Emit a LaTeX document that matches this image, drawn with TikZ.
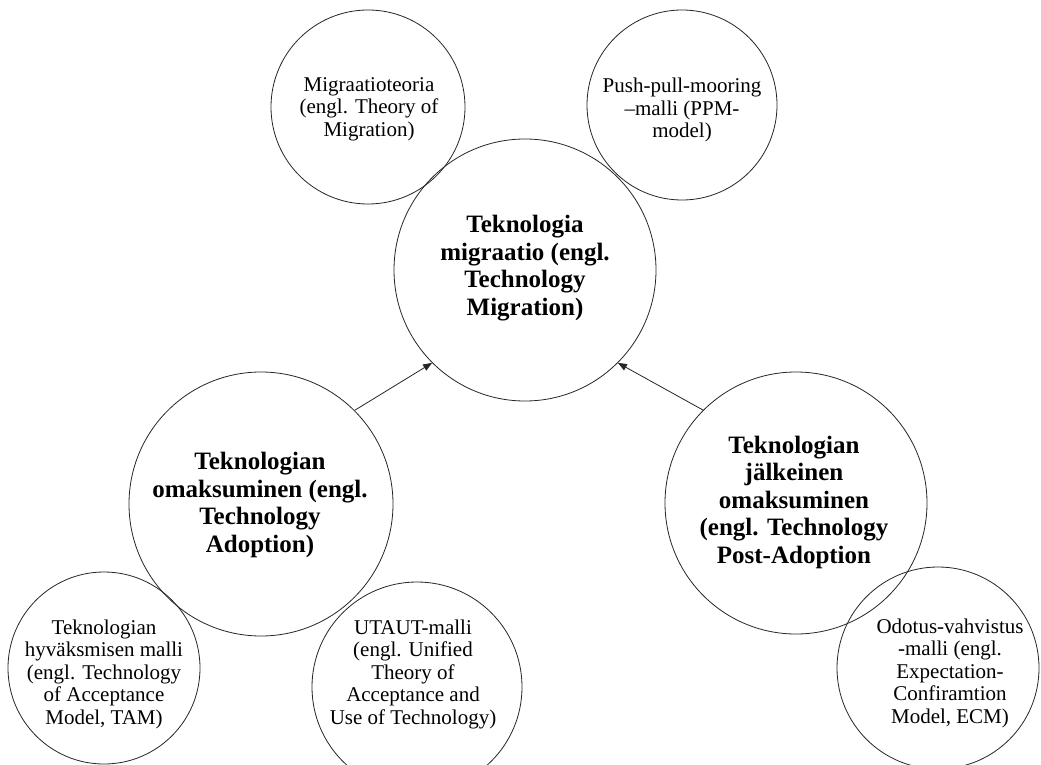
\documentclass[tikz,border=0pt]{standalone}
\usepackage{fontspec}
\setmainfont{Liberation Serif}
\usetikzlibrary{arrows.meta}
\tikzset{
  ring/.style={circle, draw=black!85, line width=0.8pt, inner sep=0pt},
  smalltxt/.style={align=center, inner sep=0pt, font=\fontsize{21}{22.5}\selectfont},
  bigtxt/.style={align=center, inner sep=0pt, font=\fontsize{25}{27.5}\selectfont\bfseries},
  conn/.style={draw=black!85, line width=0.8pt, -{Triangle[length=9pt,width=7pt]}}
}
\begin{document}
\begin{tikzpicture}[x=1pt,y=-1pt]
\useasboundingbox (0,0) rectangle (1041,765);
\clip (0,0) rectangle (1041,765);
\fill[white] (0,0) rectangle (1041,765);
% circles
\node[ring, minimum size=194pt] (tl) at (368,107) {};
\node[ring, minimum size=190pt] (tr) at (682,105) {};
\node[ring, minimum size=262pt] (c) at (525,270) {};
\node[ring, minimum size=264pt] (l) at (261,504) {};
\node[ring, minimum size=262pt] (r) at (796,503) {};
\node[ring, minimum size=192pt] (bl) at (104,668) {};
\node[ring, minimum size=210pt] (bm) at (417,687) {};
\node[ring, minimum size=202pt] (br) at (938,668) {};
% texts
\node[smalltxt] (tlt) at (369,109) {Migraatioteoria\\(engl. Theory of\\Migration)};
\node[smalltxt] (trt) at (682,110) {Push-pull-mooring\\–malli (PPM-\\model)};
\node[bigtxt] (ct) at (525,268) {Teknologia\\migraatio (engl.\\Technology\\Migration)};
\node[bigtxt] (lt) at (260,505) {Teknologian\\omaksuminen (engl.\\Technology\\Adoption)};
\node[bigtxt] (rt) at (794,502) {Teknologian\\jälkeinen\\omaksuminen\\(engl. Technology\\Post-Adoption};
\node[smalltxt] (blt) at (104,674) {Teknologian\\hyväksmisen malli\\(engl. Technology\\of Acceptance\\Model, TAM)};
\node[smalltxt] (bmt) at (413,674) {UTAUT-malli\\(engl. Unified\\Theory of\\Acceptance and\\Use of Technology)};
\node[smalltxt] (brt) at (950,673) {Odotus-vahvistus\\-malli (engl.\\Expectation-\\Confiramtion\\Model, ECM)};
% connectors
\draw[conn] (l.45) -- (c.225);
\draw[conn] (r.135) -- (c.315);
\end{tikzpicture}
\end{document}
